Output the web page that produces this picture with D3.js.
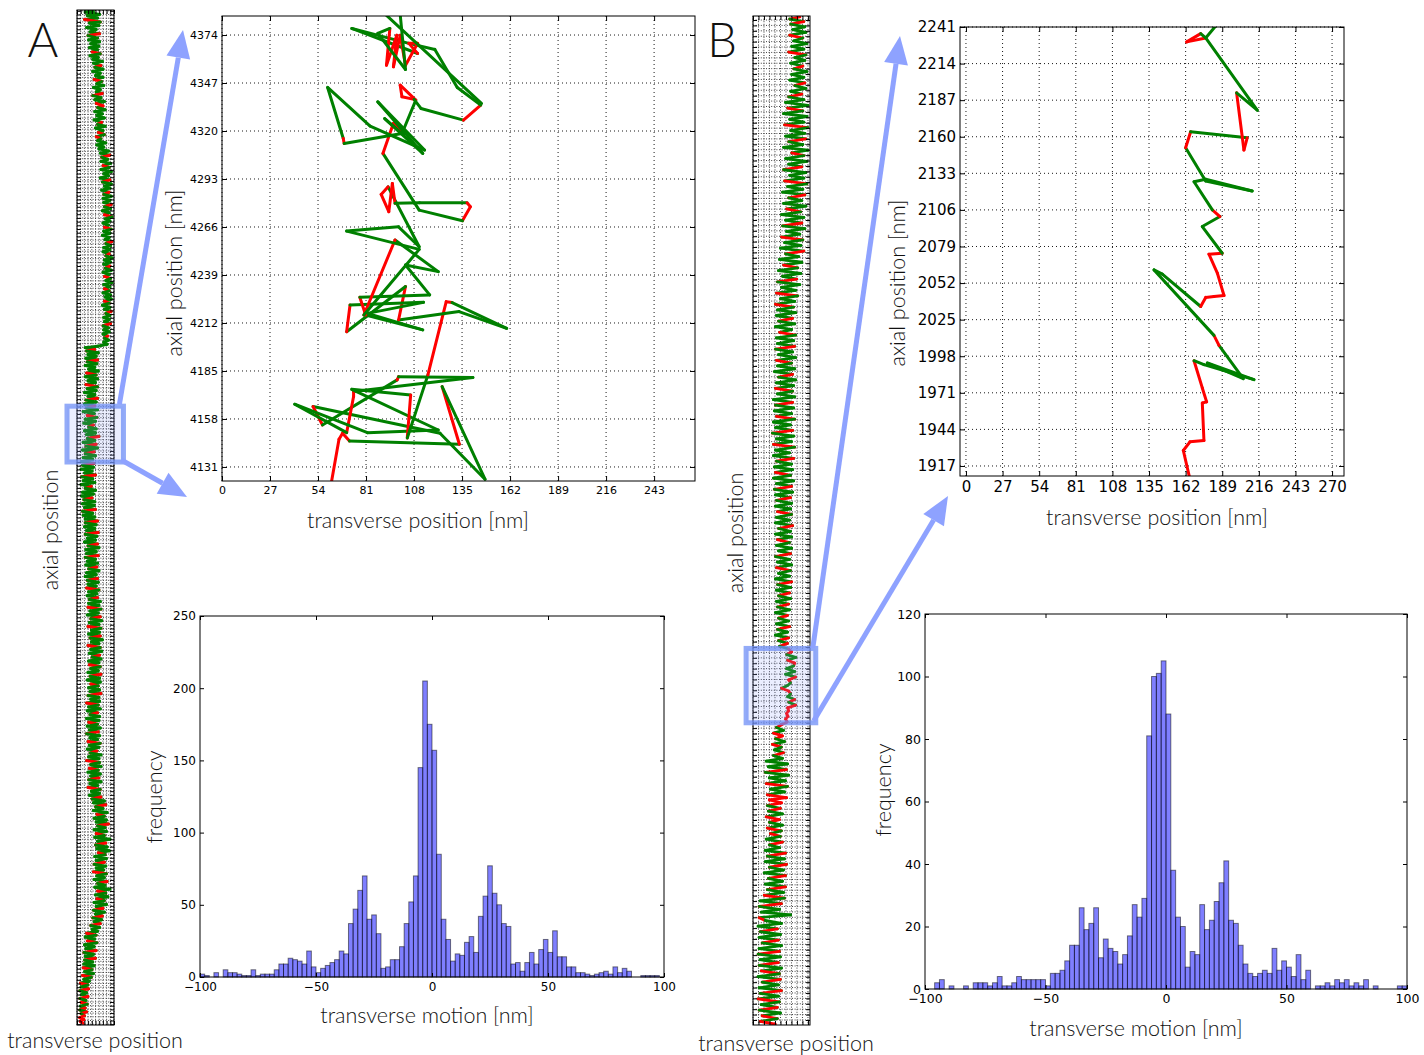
<!DOCTYPE html>
<html>
<head>
<meta charset="utf-8">
<script src="https://cdn.jsdelivr.net/npm/d3@7"></script>
<style>
  body { margin: 0; background: #fff; }
  .tick text { font-family: "DejaVu Sans", sans-serif; fill: #000; }
  .lbl { font-family: Lato, "Open Sans", sans-serif; font-weight: 300; fill: #111; }
</style>
</head>
<body>
<svg id="fig" width="1424" height="1055"></svg>
<script>
// transverse-motion histograms, 2 nm bins from -100 to 100
const binStart = -100, binWidth = 2;
const histCountsA = [2,1,0,3,0,5,3,3,2,1, 1,5,1,2,2,2,5,9,9,13, 12,11,9,18,7,3,6,8,10,12,
  18,16,37,47,60,70,40,43,30,6, 7,12,12,21,37,52,70,145,205,175,
  157,85,40,26,11,16,15,24,28,17, 42,56,77,58,50,37,35,9,10,4,
  10,17,9,19,26,17,32,14,14,7, 7,3,3,2,1,2,3,4,2,7, 3,6,4,0,0,1,1,1,1,0];
const histCountsB = [0,0,2,3,0,1,0,0,1,0, 2,2,2,1,2,4,1,1,2,4, 3,3,3,3,3,1,5,5,6,9,
  14,14,26,19,21,26,10,16,13,12, 8,11,17,27,23,29,81,100,101,105,
  88,38,23,20,7,12,11,27,19,22, 28,34,41,22,21,14,8,5,4,5,
  6,5,13,6,9,7,4,11,3,6, 0,1,1,2,1,3,2,3,1,2, 1,3,0,1,0,0,0,0,1,1];
const histTicksA = { x: [-100, -50, 0, 50, 100], y: [0, 50, 100, 150, 200, 250] };
const histTicksB = { x: [-100, -50, 0, 50, 100], y: [0, 20, 40, 60, 80, 100, 120] };

// zoomed trajectories: [transverse nm, axial nm, state] (0 = green, 1 = red)
const zoomPathA = [
  [60.4,4116,1],[65.8,4146.6,1],[67.8,4150,1],[71.7,4145.6,1],[133.5,4143.8,0],[123.8,4176.2,1],
  [147.9,4124.1,0],[122.6,4150,0],[51.2,4165,0],[56.5,4154.6,1],[98.5,4180,0],[99.3,4181.8,1],
  [141.1,4181.3,0],[74,4173.4,0],[74,4170.6,1],[70.1,4150.3,1],[40.9,4166.3,0],[81.8,4150.3,0],
  [121.6,4151.8,0],[73,4174.7,0],[106.1,4171.5,0],[104.2,4147.3,1],[115.8,4182.8,0],[126.1,4224,1],
  [129.4,4223.5,1],[160.1,4209,0],[133.3,4218.4,0],[99.3,4213.7,0],[103.2,4232.5,1],[70.1,4207.1,0],
  [72,4222.1,1],[113.3,4223.6,0],[81.8,4217.4,0],[112.9,4208.1,0],[80.8,4216.5,0],[77.5,4226.5,1],
  [116.8,4227.8,0],[103.2,4244.6,0],[121.6,4240.9,0],[97.3,4258.7,0],[79.8,4216.5,1],[110.9,4253.4,0],
  [70.1,4263.7,0],[99.3,4266.1,0],[110.9,4254.9,0],[93.4,4288.6,0],[89.5,4284.3,1],[93.8,4274.6,1],
  [95.8,4290.5,1],[97.3,4279.3,1],[111,4279.6,0],[137.8,4279.6,0],[139.7,4277.4,1],[135.2,4269.5,1],
  [110.9,4275.5,0],[90.5,4307.4,0],[96.4,4324.3,1],[102.2,4317.7,1],[91.5,4327,0],[112.9,4307.4,0],
  [87.6,4336.4,0],[113.9,4309.3,0],[83.3,4322.8,0],[59.4,4344.5,0],[68.2,4315.8,0],[68.7,4313,1],
  [101.2,4318.6,0],[109,4337.4,0],[100.2,4345.8,1],[101.2,4339.3,1],[108,4337.8,1],[111.9,4332.7,0],
  [135.8,4326.1,0],[145.5,4334.6,1],[132.3,4344.5,0],[119.7,4365.9,0],[105.1,4369.3,0],[73,4377.7,0],
  [110,4363.6,0],[105.1,4369.3,1],[110,4369.3,1],[103.2,4357,1],[100.2,4373.9,1],[96.4,4356.1,1],
  [98.3,4373.9,1],[92.5,4357,1],[94.4,4377.7,1],[87.6,4374.9,0],[103.2,4354.6,0],[99.3,4395,0],
  [81.8,4395,0],[145.9,4335.5,0]
];
const zoomPathB = [
  [165.7,1905,1],[160.3,1928.4,1],[165.2,1934.8,1],[175.5,1935.8,1],[174.3,1963.5,1],[177.5,1964.3,1],
  [174.3,1974.6,1],[168.2,1994.7,1],[175.5,1991.8,0],[212.4,1980.7,0],[178,1993,0],[204.5,1981.5,0],
  [186.6,2006,0],[182.9,2013.4,1],[138.7,2061.7,0],[144.8,2058.6,0],[173.1,2034.7,0],[176.8,2041.4,1],
  [182.9,2042.1,1],[190.3,2042.8,1],[185.4,2059.3,1],[179.2,2073.3,1],[189,2074,1],[174.3,2093.7,0],
  [187.3,2101.1,0],[181.7,2106,1],[168.2,2126.8,0],[176.8,2128.6,0],[211.1,2120,0],[176.8,2127.3,0],
  [162,2151.9,0],[165.7,2163.7,1],[207.4,2159.2,0],[205,2150.2,1],[199.6,2192.4,1],[214.8,2179.6,0],
  [176.8,2232.9,0],[162.8,2230,1],[173.1,2236.1,1],[176.8,2232.9,0],[192.7,2252,0]
];

// full trajectories shown in the narrow strips: [transverse nm, axial nm, state]
const stripPathA = [
  [120,7342,0],[60,7335,0],[165,7318,0],[75,7310,0],[150,7292,0],[55,7281,0],[170,7262,1],[90,7255,0],
  [160,7236,0],[70,7222,0],[140,7208,0],[95,7190,0],[165,7176,0],[80,7163,1],[150,7145,0],
  [85,7132,0],[165,7118,0],[100,7104,0],[160,7086,0],[90,7075,0],[150,7060,0],[110,7044,0],[170,7031,1],
  [95,7016,0],[155,7003,0],[115,6990,0],
  [185,6975,0],[120,6962,0],[175,6945,0],[130,6932,1],[190,6918,0],[115,6902,0],[170,6889,0],[135,6872,0],
  [190,6858,0],[125,6843,0],[180,6828,1],[145,6812,0],[195,6798,0],[120,6784,0],[170,6768,0],[140,6752,0],
  [185,6740,0],[115,6725,1],[175,6710,0],
  [130,6695,0],[200,6682,0],[140,6668,0],[190,6650,1],[150,6638,1],[205,6622,0],[130,6608,0],[185,6592,0],
  [145,6578,0],[200,6562,0],[125,6548,0],[180,6530,0],[150,6515,1],[205,6502,0],[135,6488,0],[190,6470,0],
  [155,6456,0],[200,6440,1],[140,6425,0],[175,6410,1],[150,6396,0],[210,6380,0],[145,6365,0],[195,6350,0],
  [160,6336,0],
  [230,6320,0],[170,6305,0],[240,6290,0],[180,6276,1],[225,6260,0],[175,6245,0],[245,6230,0],[190,6214,0],
  [235,6200,1],[175,6185,0],[250,6170,0],[195,6155,0],[230,6140,0],[170,6124,0],[240,6110,0],[185,6094,1],
  [250,6080,0],[200,6064,0],[240,6050,0],[180,6035,0],[235,6020,0],[195,6004,1],[250,5990,0],[190,5975,0],
  [240,5960,0],[195,5945,0],[250,5930,0],[200,5914,1],[245,5900,0],[185,5884,0],[235,5870,0],[200,5855,0],
  [255,5840,1],[205,5825,0],[240,5810,0],[190,5795,0],[230,5780,0],[200,5764,0],[250,5750,1],[195,5735,0],
  [240,5720,0],[185,5705,0],[235,5690,0],[205,5674,0],[255,5660,0],[210,5645,1],[245,5630,0],[195,5615,0],
  [240,5600,0],[190,5585,0],[235,5570,0],[210,5555,1],[255,5540,0],[200,5525,0],[245,5510,0],[195,5495,0],
  [240,5480,0],[205,5465,1],[250,5450,0],[190,5435,0],[235,5420,0],[200,5405,0],[245,5390,1],[210,5375,0],
  [255,5360,0],[195,5345,0],[240,5330,0],[200,5315,0],[235,5300,1],[190,5285,0],[245,5270,0],[205,5255,0],
  [250,5240,0],[200,5225,0],[235,5210,1],[185,5195,0],[240,5180,0],[200,5165,0],[250,5150,0],[210,5135,1],
  [240,5120,0],[195,5105,0],[235,5090,0],[200,5075,0],[245,5060,0],[190,5045,1],[230,5030,0],[195,5015,0],
  [235,5000,0],[190,4985,0],[225,4970,0],[200,4955,1],[230,4940,0],[195,4925,0],[220,4910,0],
  [150,4895,0],[60,4885,0],[130,4872,0],[70,4860,1],[155,4848,0],[80,4835,0],[140,4822,0],[65,4808,0],
  [150,4795,0],[75,4782,1],[145,4768,0],[60,4755,0],[130,4742,0],[85,4728,0],[155,4715,0],[70,4700,0],
  [140,4686,1],[60,4672,0],[150,4658,0],[80,4644,0],[135,4630,0],[65,4615,0],[150,4600,1],[75,4586,0],
  [140,4572,0],[55,4558,0],[130,4544,0],[80,4530,0],[150,4515,0],[65,4502,1],
  [140,4488,0],[55,4474,0],[130,4460,0],[70,4445,1],[150,4432,0],[45,4418,0],[125,4404,0],[75,4390,0],
  [145,4376,1],[60,4362,0],[135,4348,0],[50,4334,0],[120,4320,0],[85,4306,1],[140,4292,0],[55,4278,0],
  [135,4264,0],[70,4250,0],[160,4236,0],[75,4222,1],[130,4208,0],[45,4194,0],[140,4180,0],[65,4166,1],
  [150,4152,0],[40,4138,0],[125,4124,0],[60,4110,1],[135,4096,0],[45,4082,0],[115,4068,0],
  [35,4054,0],[125,4040,0],[40,4026,1],[120,4012,0],[30,3998,0],[110,3984,0],[55,3970,0],[135,3956,0],
  [35,3942,1],[115,3928,0],[45,3914,0],[130,3900,0],[30,3886,0],[105,3872,0],[60,3858,1],[135,3844,0],
  [40,3830,0],[120,3816,0],[35,3802,0],[110,3788,0],[50,3774,1],[130,3760,0],[40,3746,0],[125,3732,0],
  [55,3718,0],[135,3704,0],[40,3690,1],[115,3676,0],[45,3662,0],[130,3648,0],[60,3634,0],
  [150,3620,0],[60,3606,1],[140,3592,0],[55,3578,0],[130,3564,0],[70,3550,0],[155,3536,0],[60,3522,1],
  [145,3508,0],[75,3494,0],[135,3480,0],[55,3466,0],[150,3452,0],[80,3438,1],[160,3424,0],[65,3410,0],
  [140,3396,0],[70,3382,0],[155,3368,0],[60,3354,1],[135,3340,0],[75,3326,0],[150,3312,0],[65,3298,0],
  [145,3284,0],[85,3270,1],[160,3256,0],[70,3242,0],[140,3228,0],[60,3214,0],[150,3200,0],[75,3186,1],
  [155,3172,0],[80,3158,0],[140,3144,0],[70,3130,0],[160,3116,1],[85,3102,0],[145,3088,0],[75,3074,0],
  [150,3060,0],[90,3046,1],
  [170,3032,0],[85,3018,0],[160,3004,0],[80,2990,0],[175,2976,1],[95,2962,0],[155,2948,0],[75,2934,0],
  [170,2920,0],[100,2906,1],[180,2892,0],[90,2878,0],[160,2864,0],[80,2850,0],[175,2836,1],[105,2822,0],
  [165,2808,0],[85,2794,0],[170,2780,0],[95,2766,1],[185,2752,0],[105,2738,0],[160,2724,0],[80,2710,0],
  [170,2696,1],[100,2682,0],[180,2668,0],[90,2654,0],[165,2640,0],[110,2626,1],[175,2612,0],[85,2598,0],
  [160,2584,0],[90,2570,0],[170,2556,1],[100,2542,0],[155,2528,0],[80,2514,0],[175,2500,0],[95,2486,1],
  [165,2472,0],[75,2458,0],[170,2444,0],[100,2430,0],[155,2416,1],[85,2402,0],[165,2388,0],[95,2374,0],
  [175,2360,0],[80,2346,1],[160,2332,0],[100,2318,0],
  [165,2304,0],[70,2290,0],[155,2276,1],[85,2262,0],[170,2248,0],[75,2234,0],[150,2220,0],[95,2206,1],
  [165,2192,0],[70,2178,0],[160,2164,0],[85,2150,0],[150,2136,1],[75,2122,0],[170,2108,0],[90,2094,0],
  [155,2080,0],[70,2066,1],[165,2052,0],[95,2038,0],[150,2024,0],[80,2010,0],[170,1996,1],[90,1982,0],
  [160,1968,0],[75,1954,0],[145,1940,0],[95,1926,1],[175,1912,0],[85,1898,0],[160,1884,0],[70,1870,0],
  [165,1856,1],[100,1842,0],[175,1828,0],[90,1814,0],[155,1800,1],[80,1786,0],[170,1772,0],[100,1758,0],
  [160,1744,0],[85,1730,1],[175,1716,0],[95,1702,0],[150,1688,0],[80,1674,0],[170,1660,1],[105,1646,0],
  [165,1632,0],[90,1618,0],[175,1604,0],[110,1590,1],
  [200,1576,0],[120,1562,0],[210,1548,0],[135,1534,1],[190,1520,0],[120,1506,0],[220,1492,0],[145,1478,0],
  [200,1464,1],[125,1450,0],[215,1436,0],[140,1422,0],[230,1408,0],[150,1394,1],[205,1380,0],[125,1366,0],
  [215,1352,0],[140,1338,0],[200,1324,1],[130,1310,0],[240,1296,0],[150,1282,0],[210,1268,0],[135,1254,1],
  [220,1240,0],[145,1226,0],[235,1212,0],[155,1198,0],[205,1184,1],[130,1170,0],[215,1156,0],[140,1142,0],
  [200,1128,0],[125,1114,1],[210,1100,0],[140,1086,0],[195,1072,0],[120,1058,0],[215,1044,1],[145,1030,0],
  [200,1016,0],[125,1002,0],[220,988,0],[150,974,1],[205,960,0],[130,946,0],[240,932,0],[150,918,0],
  [210,904,1],[135,890,0],[225,876,0],[145,862,0],[200,848,1],[125,834,0],[215,820,0],[140,806,0],
  [190,792,0],[120,778,1],[200,764,0],[135,750,0],[185,736,0],[115,722,1],[180,708,0],[125,694,0],
  [170,680,0],[100,666,1],[165,652,0],[110,638,0],
  [150,624,0],[70,610,0],[140,596,1],[60,582,0],[130,568,0],[75,554,0],[145,540,1],[55,526,0],
  [125,512,0],[65,498,0],[140,484,0],[50,470,1],[120,456,0],[60,442,0],[135,428,0],[55,414,1],
  [115,400,0],[50,386,0],[125,372,0],[45,358,0],[110,344,1],[55,330,0],[120,316,0],[40,302,0],
  [105,288,1],[50,274,0],
  [90,260,0],[25,246,0],[80,232,1],[30,218,0],[85,204,0],[20,190,1],[70,176,0],[35,162,0],
  [80,148,0],[20,134,1],[65,120,0],[30,106,0],[75,92,1],[25,78,0],[60,64,0],[20,50,1],
  [70,36,0],[30,22,1],[55,8,0],[20,-6,1],[50,-20,1],[25,-34,1],[45,-48,1]
];
const stripPathB = [
  [230,5415,0],[180,5405,1],[250,5392,0],[185,5380,1],[255,5366,0],[195,5352,0],[260,5338,0],[180,5324,0],
  [245,5310,1],[200,5296,0],[265,5282,0],[190,5268,0],[250,5254,0],[175,5240,0],[260,5226,1],[205,5212,0],
  [255,5198,0],[185,5184,0],[245,5170,0],[200,5156,1],[265,5142,0],[190,5128,0],[250,5114,0],[180,5100,0],
  [255,5086,0],[205,5072,1],[260,5058,0],[185,5044,0],[240,5030,0],[175,5016,1],[250,5002,0],
  [160,4988,0],[270,4974,0],[170,4960,0],[245,4946,1],[150,4932,0],[265,4918,0],[180,4904,0],[250,4890,0],
  [155,4876,0],[270,4862,1],[185,4848,0],[255,4834,0],[160,4820,0],[260,4806,0],[175,4792,1],[245,4778,0],
  [150,4764,0],[270,4750,0],[190,4736,0],[250,4722,1],[160,4708,0],[265,4694,0],[175,4680,0],[240,4666,0],
  [150,4652,1],[260,4638,0],[180,4624,0],[250,4610,0],[155,4596,0],[265,4582,1],[170,4568,0],[245,4554,0],
  [145,4540,0],[255,4526,0],[175,4512,1],[240,4498,0],[150,4484,0],[260,4470,0],[165,4456,0],[235,4442,1],
  [140,4428,0],[250,4414,0],[160,4400,0],[240,4386,0],[145,4372,1],[255,4358,0],[165,4344,0],[230,4330,0],
  [140,4316,0],[245,4302,1],[155,4288,0],[235,4274,0],[135,4260,0],[250,4246,0],[160,4232,1],[225,4218,0],
  [130,4204,0],[240,4190,0],[150,4176,0],[220,4162,1],[125,4148,0],[235,4134,0],[145,4120,0],[215,4106,0],
  [120,4092,1],[230,4078,0],[140,4064,0],[210,4050,0],[115,4036,0],[220,4022,1],[135,4008,0],
  [205,3994,0],[110,3980,0],[200,3966,1],[120,3952,0],[210,3938,0],[115,3924,0],[195,3910,0],[125,3896,1],
  [205,3882,0],[110,3868,0],[190,3854,0],[130,3840,0],[210,3826,1],[115,3812,0],[200,3798,0],[120,3784,0],
  [205,3770,0],[110,3756,1],[195,3742,0],[125,3728,0],[210,3714,0],[115,3700,0],[190,3686,1],[120,3672,0],
  [205,3658,0],[105,3644,0],[195,3630,0],[125,3616,1],[210,3602,0],[115,3588,0],[200,3574,0],[110,3560,0],
  [195,3546,1],[120,3532,0],[205,3518,0],
  [100,3504,0],[195,3490,0],[110,3476,1],[200,3462,0],[105,3448,0],[190,3434,0],[115,3420,0],[205,3406,1],
  [100,3392,0],[185,3378,0],[110,3364,0],[195,3350,0],[95,3336,1],[200,3322,0],[115,3308,0],[190,3294,0],
  [100,3280,0],[205,3266,1],[110,3252,0],[180,3238,0],[100,3224,0],[200,3210,0],[115,3196,1],[190,3182,0],
  [105,3168,0],[195,3154,0],[110,3140,0],[185,3126,1],[100,3112,0],[200,3098,0],[115,3084,0],[190,3070,0],
  [105,3056,1],[195,3042,0],[110,3028,0],[185,3014,0],
  [115,3000,1],[190,2986,0],[110,2972,0],[185,2958,0],[120,2944,0],[190,2930,1],[115,2916,0],[180,2902,0],
  [110,2888,0],[195,2874,0],[125,2860,1],[185,2846,0],[110,2832,0],[190,2818,0],[120,2804,0],[180,2790,1],
  [115,2776,0],[190,2762,0],[125,2748,0],[185,2734,0],[110,2720,1],[180,2706,0],[120,2692,0],[190,2678,0],
  [115,2664,0],[185,2650,1],[125,2636,0],[180,2622,0],[110,2608,0],[190,2594,0],[120,2580,1],[185,2566,0],
  [115,2552,0],[180,2538,0],[125,2524,1],[185,2510,0],
  [115,2496,0],[175,2482,0],[120,2468,1],[180,2454,0],[110,2440,0],[170,2426,0],[125,2412,1],[175,2398,0],
  [115,2384,0],[180,2370,0],[120,2356,1],[170,2342,0],[110,2328,0],[175,2314,0],[125,2300,1],[170,2286,0],
  [130,2272,1],
  [175,2258,0],[190,2244,1],[165,2230,1],[210,2216,0],[170,2202,0],[205,2188,1],[200,2174,1],[165,2160,0],
  [205,2146,0],[160,2132,0],[210,2118,0],[175,2104,1],[185,2090,1],[170,2076,0],[140,2062,0],[175,2048,1],
  [185,2034,1],[170,2020,0],[205,2006,0],[175,1992,1],[210,1978,0],[170,1964,1],[175,1950,1],[165,1936,1],
  [172,1922,1],[160,1908,1],[168,1894,1],
  [140,1880,1],[115,1866,1],[150,1852,0],[100,1838,0],[145,1824,1],[110,1810,1],[155,1796,0],[95,1782,0],
  [140,1768,1],[105,1754,0],[150,1740,0],[100,1726,1],[145,1712,0],
  [65,1698,0],[170,1684,0],[75,1670,0],[165,1656,0],[60,1642,1],[175,1628,0],[80,1614,0],[160,1600,0],
  [65,1586,0],[170,1572,1],[85,1558,0],[155,1544,0],[70,1530,0],[165,1516,1],
  [80,1504,1],[140,1490,1],[70,1476,1],[135,1462,0],[75,1448,1],[145,1434,0],[65,1420,0],[130,1406,1],
  [80,1392,1],[145,1378,0],[70,1364,0],[140,1350,1],[85,1336,0],[135,1322,1],[65,1308,0],[145,1294,0],
  [80,1280,1],[130,1266,0],
  [60,1252,0],[160,1238,0],[70,1224,1],[155,1210,0],[60,1196,0],[165,1182,0],[80,1168,1],[150,1154,0],
  [55,1140,0],[160,1126,0],[75,1112,1],[145,1098,0],[60,1084,0],[160,1070,0],[70,1056,1],[150,1042,0],
  [55,1028,0],[155,1014,1],
  [35,1000,0],[140,986,0],[30,972,1],[130,958,0],[40,944,0],[185,930,0],[30,916,0],[60,902,1],
  [140,888,0],[25,874,0],[120,860,0],[35,846,1],[135,832,0],[30,818,0],[125,804,0],[45,790,1],
  [140,776,0],[30,762,0],
  [130,748,0],[25,734,1],[135,720,0],[35,706,0],[125,692,0],[30,678,1],[140,664,0],[40,650,0],
  [130,636,1],[25,622,0],[135,608,0],[45,594,1],[125,580,0],[30,566,0],[140,552,0],[35,538,1],
  [125,524,0],[25,510,0],[130,496,1],[40,482,0],[120,468,0],[30,454,1],[135,440,0],[45,426,0],
  [120,412,1],[35,398,0],[110,384,1]
];

// ---------- layout ----------
const svg = d3.select('#fig');
const GREEN = '#008000', RED = '#ff0000', ARROW = '#8ea2ff';

const stripA = { x0: 77, x1: 114, y0: 10, y1: 1025, xd: [0, 270], yd: [-60, 7350], lw: 3 };
const stripB = { x0: 753, x1: 810, y0: 16, y1: 1025, xd: [0, 280], yd: [380, 5420], lw: 2.8 };
const zoomA = { x0: 222, x1: 695, y0: 16, y1: 481, xd: [0, 266], yd: [4123.1, 4384.7], fs: 11 };
const zoomB = { x0: 960, x1: 1344, y0: 27, y1: 476, xd: [-4.4, 278.8], yd: [1909.6, 2241], fs: 15 };
const histA = { x0: 200, x1: 664, y0: 616, y1: 977, yd: [0, 250], fs: 12 };
const histB = { x0: 925, x1: 1407, y0: 614, y1: 989, yd: [0, 120], fs: 12.5 };

function scales(p) {
  return {
    x: d3.scaleLinear().domain(p.xd).range([p.x0, p.x1]),
    y: d3.scaleLinear().domain(p.yd).range([p.y1, p.y0])
  };
}

const ticks27 = d => d3.range(Math.ceil(d[0] / 27) * 27, d[1] + 0.01, 27);
let clipId = 0;

function addClip(p) {
  const id = 'clip' + (clipId++);
  svg.append('clipPath').attr('id', id)
    .append('rect').attr('x', p.x0).attr('y', p.y0)
    .attr('width', p.x1 - p.x0).attr('height', p.y1 - p.y0);
  return id;
}

// matplotlib-like frame: inward ticks on all four sides
function frame(p, sx, sy, xt, yt, opts) {
  const g = svg.append('g');
  const tl = opts.tick || 4;
  g.append('g').attr('transform', `translate(0,${p.y1})`)
    .call(d3.axisBottom(sx).tickValues(xt).tickSize(-tl).tickPadding(opts.labels ? 5 : 0)
      .tickFormat(opts.labels ? opts.xfmt || d3.format('d') : ''));
  g.append('g').attr('transform', `translate(${p.x0},0)`)
    .call(d3.axisLeft(sy).tickValues(yt).tickSize(-tl).tickPadding(opts.labels ? 4 : 0)
      .tickFormat(opts.labels ? d3.format('d') : ''));
  g.append('g').attr('transform', `translate(0,${p.y0})`)
    .call(d3.axisTop(sx).tickValues(xt).tickSize(-tl).tickFormat(''));
  g.append('g').attr('transform', `translate(${p.x1},0)`)
    .call(d3.axisRight(sy).tickValues(yt).tickSize(-tl).tickFormat(''));
  g.selectAll('.domain').remove();
  g.selectAll('.tick line').attr('stroke', '#000').attr('stroke-width', opts.tw || 1);
  g.selectAll('.tick text').style('font-size', (p.fs || 11) + 'px');
  g.append('rect').attr('x', p.x0).attr('y', p.y0)
    .attr('width', p.x1 - p.x0).attr('height', p.y1 - p.y0)
    .attr('fill', 'none').attr('stroke', '#000').attr('stroke-width', 1);
}

function grid(p, sx, sy, xt, yt, dash, op) {
  const g = svg.append('g').attr('stroke', '#000').attr('stroke-width', 1)
    .attr('stroke-dasharray', dash).attr('opacity', op);
  g.selectAll('.gx').data(xt).join('line')
    .attr('x1', d => sx(d)).attr('x2', d => sx(d)).attr('y1', p.y0).attr('y2', p.y1);
  g.selectAll('.gy').data(yt).join('line')
    .attr('y1', d => sy(d)).attr('y2', d => sy(d)).attr('x1', p.x0).attr('x2', p.x1);
}

function trajectory(p, sx, sy, pts, width) {
  const segs = d3.pairs(pts);
  svg.append('g').attr('clip-path', `url(#${addClip(p)})`)
    .selectAll('line').data(segs).join('line')
    .attr('x1', d => sx(d[0][0])).attr('y1', d => sy(d[0][1]))
    .attr('x2', d => sx(d[1][0])).attr('y2', d => sy(d[1][1]))
    .attr('stroke', d => d[1][2] ? RED : GREEN)
    .attr('stroke-width', width).attr('stroke-linecap', 'round');
}

function label(x, y, text, size, rot) {
  svg.append('text').attr('class', 'lbl')
    .attr('transform', `translate(${x},${y})` + (rot ? ' rotate(-90)' : ''))
    .attr('text-anchor', 'middle').style('font-size', size + 'px').text(text);
}

// ---------- strips ----------
function drawStrip(p, pts) {
  const s = scales(p);
  grid(p, s.x, s.y, ticks27(p.xd), ticks27(p.yd), '1,1.6', 0.75);
  trajectory(p, s.x, s.y, pts, p.lw);
  frame(p, s.x, s.y, ticks27(p.xd), ticks27(p.yd), { labels: false, tick: 4 });
  return s;
}

// ---------- zoom panels ----------
function drawZoom(p, pts) {
  const s = scales(p);
  const xt = ticks27(p.xd).filter(d => d >= 0), yt = ticks27(p.yd);
  grid(p, s.x, s.y, xt, yt, '1,3', 0.9);
  trajectory(p, s.x, s.y, pts, 3);
  frame(p, s.x, s.y, xt, yt, { labels: true, tick: 5 });
  return s;
}

// ---------- histograms ----------
function drawHist(p, counts, ticks) {
  const sx = d3.scaleLinear().domain([-100, 100]).range([p.x0, p.x1]);
  const sy = d3.scaleLinear().domain(p.yd).range([p.y1, p.y0]);
  svg.append('g').selectAll('rect').data(counts).join('rect')
    .attr('x', (d, i) => sx(binStart + i * binWidth))
    .attr('width', sx(binWidth) - sx(0))
    .attr('y', d => sy(d)).attr('height', d => sy(0) - sy(d))
    .attr('fill', '#0000ff').attr('fill-opacity', 0.5)
    .attr('stroke', '#000').attr('stroke-opacity', 0.5).attr('stroke-width', 1);
  const minus = d => (d < 0 ? '\u2212' + Math.abs(d) : '' + d);
  frame(p, sx, sy, ticks.x, ticks.y, { labels: true, tick: 4, xfmt: minus });
}

const sA = drawStrip(stripA, stripPathA);
const sB = drawStrip(stripB, stripPathB);
drawZoom(zoomA, zoomPathA);
drawZoom(zoomB, zoomPathB);
drawHist(histA, histCountsA, histTicksA);
drawHist(histB, histCountsB, histTicksB);

// ---------- zoom boxes and arrows ----------
function zoomBox(s, zoom, pad) {
  const b = {
    x0: s.x(zoom.xd[0]) - pad[0], x1: s.x(zoom.xd[1]) + pad[0],
    y0: s.y(zoom.yd[1]) - pad[1], y1: s.y(zoom.yd[0]) + pad[1]
  };
  svg.append('rect').attr('x', b.x0).attr('y', b.y0)
    .attr('width', b.x1 - b.x0).attr('height', b.y1 - b.y0)
    .attr('fill', ARROW).attr('fill-opacity', 0.18)
    .attr('stroke', '#6f8ff5').attr('stroke-opacity', 0.75).attr('stroke-width', 5);
  return b;
}

function arrow(x1, y1, x2, y2) {
  const len = Math.hypot(x2 - x1, y2 - y1), ux = (x2 - x1) / len, uy = (y2 - y1) / len;
  const hl = 28, hw = 12;
  const bx = x2 - ux * hl, by = y2 - uy * hl;
  const g = svg.append('g').attr('fill', ARROW).attr('stroke', ARROW);
  g.append('line').attr('x1', x1).attr('y1', y1).attr('x2', bx).attr('y2', by)
    .attr('stroke-width', 5);
  g.append('path').attr('stroke', 'none')
    .attr('d', `M${x2},${y2}L${bx - uy * hw},${by + ux * hw}L${bx + uy * hw},${by - ux * hw}Z`);
}

const boxA = zoomBox(sA, zoomA, [10, 10]);
const boxB = zoomBox(sB, zoomB, [6, 4]);
arrow(boxA.x1 - 4, boxA.y0 - 2, zoomA.x0 - 39, zoomA.y0 + 14);
arrow(boxA.x1 - 2, boxA.y1 - 2, zoomA.x0 - 35, zoomA.y1 + 16);
arrow(boxB.x1 - 3, boxB.y0, zoomB.x0 - 60, zoomB.y0 + 9);
arrow(boxB.x1 - 2, boxB.y1 - 2, zoomB.x0 - 12, zoomB.y1 + 20);

// ---------- text ----------
label(43, 57, 'A', 47);
label(722, 57, 'B', 47);
label(58, 530, 'axial position', 21.5, true);
label(95, 1048, 'transverse position', 21.5);
label(743, 533, 'axial position', 21.5, true);
label(786, 1051, 'transverse position', 21.5);
label(182, 273, 'axial position [nm]', 21.5, true);
label(418, 528, 'transverse position [nm]', 21.5);
label(905, 283, 'axial position [nm]', 21.5, true);
label(1157, 525, 'transverse position [nm]', 21.5);
label(162, 797, 'frequency', 21.5, true);
label(427, 1023, 'transverse motion [nm]', 21.5);
label(891, 790, 'frequency', 21.5, true);
label(1136, 1036, 'transverse motion [nm]', 21.5);
</script>
</body>
</html>
